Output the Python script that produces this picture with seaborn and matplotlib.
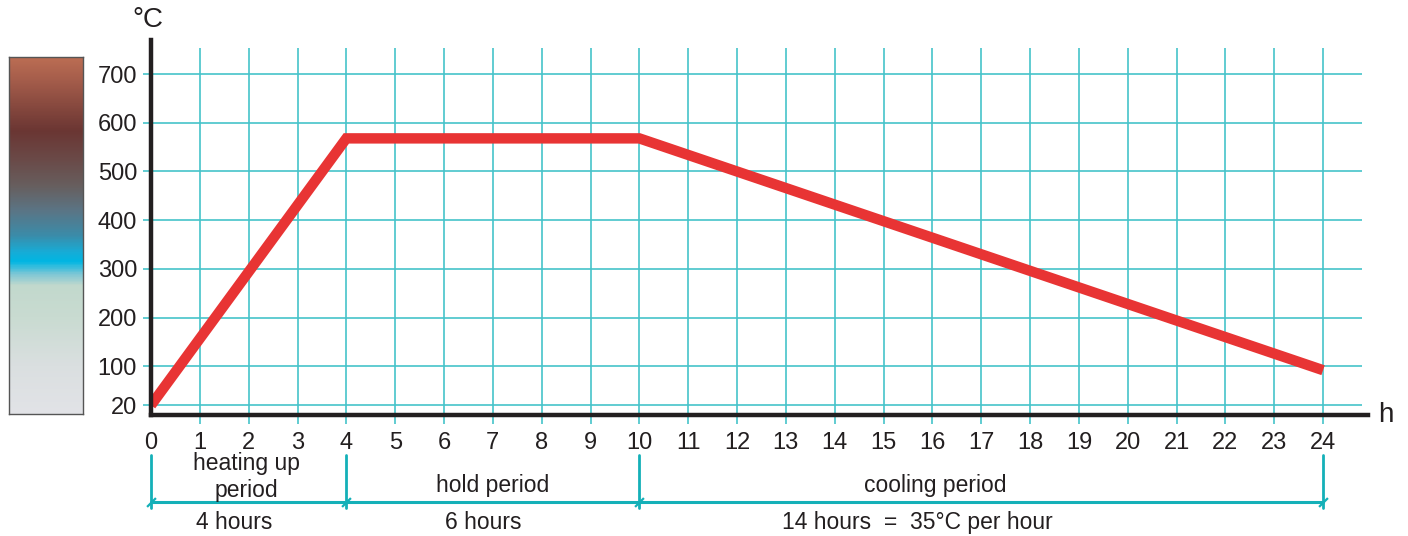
import numpy as np
import pandas as pd
import seaborn as sns
import matplotlib.pyplot as plt
from matplotlib.colors import LinearSegmentedColormap
from matplotlib.transforms import blended_transform_factory

# Firing schedule: time (h) vs kiln temperature (°C)
hours = [0, 4, 10, 24]
temps = [20, 568, 568, 92]

y_ticks = [20, 100, 200, 300, 400, 500, 600, 700]
x_ticks = list(range(0, 25))

# Phase brackets under the time axis
phase_bounds = [0, 4, 10, 24]
phase_names = ["heating up\nperiod", "hold period", "cooling period"]
phase_name_x = [1.95, 7.0, 16.05]
phase_durations = ["4 hours", "6 hours", "14 hours  =  35°C per hour"]
phase_duration_x = [1.7, 6.8, 15.7]

# Glow colour scale next to the temperature axis (value, colour)
glow_stops = [
    (0, "#e2e3e7"), (100, "#dadfe0"), (200, "#c9dbd1"), (265, "#c2d9cd"),
    (290, "#79c6d6"), (315, "#00b6e3"), (335, "#18acd6"), (370, "#3c8ba8"),
    (420, "#5b7585"), (470, "#675f5f"), (520, "#6a4c4a"), (585, "#6b3633"),
    (690, "#a55d4b"), (735, "#bb6d53"),
]

sns.set_style("white")
plt.rcParams["font.family"] = ["Liberation Sans", "DejaVu Sans"]

W, H = 1408, 536
fig = plt.figure(figsize=(W / 100, H / 100), dpi=100)

ink = "#231f20"
grid_c = "#45c3ca"
bracket_c = "#14b0b8"
red = "#e83434"

# Main plot area
ax_l, ax_r, ax_b, ax_t = 151, 1368, 415, 40
ax = fig.add_axes([ax_l / W, 1 - ax_b / H, (ax_r - ax_l) / W, (ax_b - ax_t) / H])
ymax = 770
xmax = 24.92
ax.set_xlim(0, xmax)
ax.set_ylim(0, ymax)

px_x = xmax / (ax_r - ax_l)
px_y = ymax / (ax_b - ax_t)

# Grid lines, extending slightly past the axes like tick marks
ax.hlines(y_ticks, -8 * px_x, 24.8, color=grid_c, lw=1.2, clip_on=False, zorder=1)
ax.vlines(x_ticks[1:], -9 * px_y, ymax - 8 * px_y, color=grid_c, lw=1.2, clip_on=False, zorder=1)

df = pd.DataFrame({"hours": hours, "temp": temps})
sns.lineplot(data=df, x="hours", y="temp", ax=ax, color=red, lw=7.5,
             solid_capstyle="butt", solid_joinstyle="miter", zorder=3)

for s in ["top", "right"]:
    ax.spines[s].set_visible(False)
for s in ["left", "bottom"]:
    ax.spines[s].set_color(ink)
    ax.spines[s].set_linewidth(3.2)
    ax.spines[s].set_zorder(4)

ax.set_xticks(x_ticks)
ax.set_yticks(y_ticks)
ax.set_xticklabels([str(v) for v in x_ticks])
ax.set_yticklabels([str(v) for v in y_ticks])
ax.tick_params(axis="both", length=0, labelsize=17, colors=ink)
ax.tick_params(axis="y", pad=10)
ax.tick_params(axis="x", pad=12)
ax.set_xlabel("")
ax.set_ylabel("")

# Axis unit labels
ax.text(-3 * px_x, ymax + 20 * px_y, "°C", fontsize=20, color=ink,
        ha="center", va="center", clip_on=False)
ax.text(xmax + 18 * px_x, 0, "h", fontsize=20, color=ink,
        ha="center", va="center", clip_on=False)

# Phase brackets: verticals at each boundary, a baseline and slash ticks
tr = blended_transform_factory(ax.transData, ax.transAxes)
for b in phase_bounds:
    ax.plot([b, b], [-0.107, -0.248], color=bracket_c, lw=2, transform=tr, clip_on=False)
ax.plot([phase_bounds[0], phase_bounds[-1]], [-0.232, -0.232], color=bracket_c, lw=2.2,
        transform=tr, clip_on=False)
ax.plot(phase_bounds, [-0.232] * len(phase_bounds), ls="none", marker=(2, 0, -45),
        ms=9, mew=1.6, mec=bracket_c, transform=tr, clip_on=False)

ax.text(phase_name_x[0], -0.165, phase_names[0], transform=tr, ha="center", va="center",
        fontsize=16.5, color=ink, linespacing=1.2)
for xn, name in zip(phase_name_x[1:], phase_names[1:]):
    ax.text(xn, -0.189, name, transform=tr, ha="center", va="center", fontsize=16.5, color=ink)
for xd, dur in zip(phase_duration_x, phase_durations):
    ax.text(xd, -0.287, dur, transform=tr, ha="center", va="center", fontsize=16.5, color=ink)

# Glow colour bar aligned with the temperature scale
cb_l, cb_r, cb_t, cb_b = 9, 83, 57, 414
cax = fig.add_axes([cb_l / W, 1 - cb_b / H, (cb_r - cb_l) / W, (cb_b - cb_t) / H])
top_v = (ax_b - cb_t) * px_y
bot_v = (ax_b - cb_b) * px_y
cmap = LinearSegmentedColormap.from_list(
    "glow", [((v - 0) / 735, c) for v, c in glow_stops])
vals = np.linspace(top_v, bot_v, 400)[:, None]
cax.imshow(np.clip(vals / 735, 0, 1), cmap=cmap, vmin=0, vmax=1, aspect="auto",
           extent=[0, 1, bot_v, top_v], interpolation="bilinear")
cax.set_xticks([])
cax.set_yticks([])
for s in cax.spines.values():
    s.set_color("#555555")
    s.set_linewidth(1)

fig.savefig("out.png", dpi=100)
